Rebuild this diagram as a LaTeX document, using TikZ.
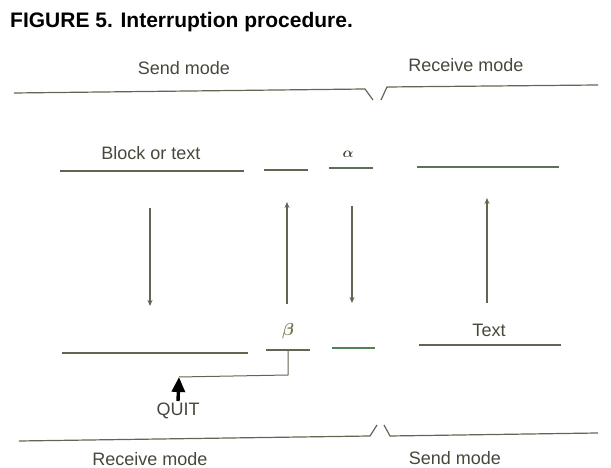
\documentclass[tikz,border=0pt]{standalone}
\usepackage{fontspec}
\setmainfont{Liberation Sans}
\usetikzlibrary{arrows.meta}
\definecolor{lineclr}{RGB}{100,100,80}
\definecolor{textclr}{RGB}{70,72,60}
\definecolor{greenclr}{RGB}{80,130,90}
\definecolor{betaclr}{RGB}{115,115,80}
\begin{document}
\begin{tikzpicture}[x=1pt,y=1pt,
  label/.style={text=textclr,font=\fontsize{18}{21}\selectfont,inner sep=0pt},
  seg/.style={draw=lineclr,line width=1.2pt},
  flow/.style={draw=lineclr,line width=1.2pt,-{Stealth[length=6pt,width=5pt]}},
  quit/.style={draw=black,line width=3.4pt,-{Triangle[length=15pt,width=13pt]}}
]
\useasboundingbox (0,0) rectangle (611,468);

% title and mode labels
\node[anchor=base west,inner sep=0pt,font=\fontsize{21}{25}\bfseries] (title) at (10,440) {FIGURE 5. Interruption procedure.};
\node[label] (sendtop) at (184,400) {Send mode};
\node[label] (recvtop) at (466,403) {Receive mode};
\node[label] (recvbot) at (150,9) {Receive mode};
\node[label] (sendbot) at (455,10) {Send mode};

% top brace
\coordinate (tb1) at (14,375);
\coordinate (tb2) at (365,379);
\coordinate (tb3) at (373,368);
\coordinate (tb4) at (381,368);
\coordinate (tb5) at (387,381);
\coordinate (tb6) at (598,383);
\draw[seg] (tb1)--(tb2)--(tb3);
\draw[seg] (tb4)--(tb5)--(tb6);

% upper row
\node[label] (block) at (151,315) {Block or text};
\node[label,font=\fontsize{14}{16}\selectfont\boldmath] (alpha) at (348,314) {$\alpha$};
\coordinate (u1a) at (60,297);  \coordinate (u1b) at (244,297);
\coordinate (u2a) at (264,298); \coordinate (u2b) at (308,298);
\coordinate (u3a) at (329,300); \coordinate (u3b) at (373,300);
\coordinate (u4a) at (417,301); \coordinate (u4b) at (559,301);
\draw[seg] (u1a)--(u1b);
\draw[seg] (u2a)--(u2b);
\draw[seg,draw=greenclr!50!lineclr] (u3a)--(u3b);
\draw[seg,draw=greenclr!60!lineclr] (u4a)--(u4b);

% lower row
\node[label,text=betaclr,font=\fontsize{18}{21}\selectfont\boldmath] (beta) at (288,137) {$\beta$};
\node[label] (text) at (489,138) {Text};
\coordinate (l1a) at (62,115);  \coordinate (l1b) at (248,115);
\coordinate (l2a) at (266,118); \coordinate (l2b) at (310,118);
\coordinate (l3a) at (332,120); \coordinate (l3b) at (375,120);
\coordinate (l4a) at (419,123); \coordinate (l4b) at (561,123);
\draw[seg] (l1a)--(l1b);
\draw[seg] (l2a)--(l2b);
\draw[seg,draw=greenclr] (l3a)--(l3b);
\draw[seg] (l4a)--(l4b);

% transfers
\coordinate (a1s) at (150,260); \coordinate (a1e) at (150,162);
\coordinate (a2s) at (287,164); \coordinate (a2e) at (287,266);
\coordinate (a3s) at (352,262); \coordinate (a3e) at (352,165);
\coordinate (a4s) at (487,165); \coordinate (a4e) at (487,270);
\draw[flow] (a1s)--(a1e);
\draw[flow] (a2s)--(a2e);
\draw[flow] (a3s)--(a3e);
\draw[flow] (a4s)--(a4e);

% quit
\node[label] (quit) at (178,57) {QUIT};
\coordinate (qtop) at (288,118);
\coordinate (qknee) at (288,93);
\coordinate (qtip) at (179,91);
\draw[seg,line width=1pt] (qtop)--(qknee)--(qtip);
\draw[quit] (quit.north |- 0,67)--(qtip);

% bottom brace
\coordinate (bb1) at (19,27);
\coordinate (bb2) at (370,32);
\coordinate (bb3) at (377,43);
\coordinate (bb4) at (384,43);
\coordinate (bb5) at (390,32);
\coordinate (bb6) at (598,35);
\draw[seg] (bb1)--(bb2)--(bb3);
\draw[seg] (bb4)--(bb5)--(bb6);
\end{tikzpicture}
\end{document}
